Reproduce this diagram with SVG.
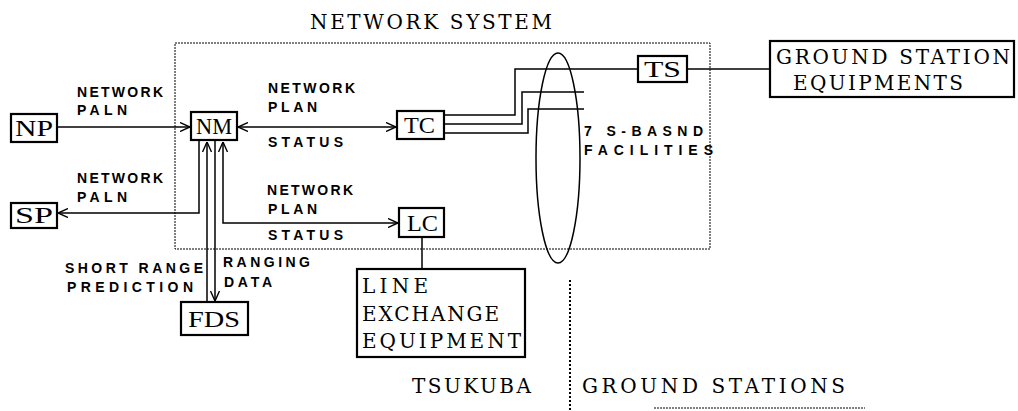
<svg xmlns="http://www.w3.org/2000/svg" width="1018" height="411" viewBox="0 0 1018 411">
<defs>
<marker id="arr" viewBox="0 0 10 10" refX="10" refY="5" markerWidth="10" markerHeight="10" markerUnits="userSpaceOnUse" orient="auto-start-reverse">
<path d="M0,0.5 L10,5 L0,9.5" fill="none" stroke="#000" stroke-width="1.4"/>
</marker>
</defs>
<style>
.box{fill:#fff;stroke:#000;stroke-width:2.2}
.bl{font-family:"Liberation Serif",serif;font-size:23px;fill:#000}
.mono{font-family:"DejaVu Serif",serif;font-size:20px;fill:#000}
.lab{font-family:"Liberation Sans",sans-serif;font-size:14px;font-weight:bold;fill:#000}
.ln{fill:none;stroke:#000;stroke-width:1.5}
.dot{fill:none;stroke:#000;stroke-width:1;stroke-dasharray:2 1}
</style>
<rect width="1018" height="411" fill="#fff"/>
<text class="mono" x="310" y="29" textLength="242" lengthAdjust="spacing">NETWORK SYSTEM</text>
<rect id="network-system" class="dot" x="175" y="43" width="535" height="206"/>
<ellipse id="s-band" cx="558" cy="158" rx="22" ry="105" fill="none" stroke="#000" stroke-width="1.5"/>
<g id="connectors">
<path class="ln" d="M57,127 H190" marker-end="url(#arr)"/>
<path class="ln" d="M238,127 H396" marker-start="url(#arr)" marker-end="url(#arr)"/>
<path class="ln" d="M199,141 V213 H58" marker-end="url(#arr)"/>
<path class="ln" d="M207,302 V142" marker-end="url(#arr)"/>
<path class="ln" d="M215,141 V301" marker-end="url(#arr)"/>
<path class="ln" d="M223,142 V223 H398" marker-start="url(#arr)" marker-end="url(#arr)"/>
<path class="ln" d="M422,237 V269"/>
<path class="ln" d="M444,115 H515 V69 H638"/>
<path class="ln" d="M444,124 H522 V92 H584"/>
<path class="ln" d="M444,133 H528 V109 H584"/>
<path class="ln" d="M687,69 H770"/>
</g>
<g id="NP"><rect class="box" x="11" y="114" width="46" height="28"/><text class="bl" x="15" y="136" textLength="38" lengthAdjust="spacingAndGlyphs">NP</text></g>
<g id="SP"><rect class="box" x="11" y="203" width="46" height="25"/><text class="bl" x="15" y="223" textLength="38" lengthAdjust="spacingAndGlyphs">SP</text></g>
<g id="NM"><rect class="box" x="191" y="112" width="46" height="28"/><text class="bl" x="196" y="134" textLength="36" lengthAdjust="spacingAndGlyphs">NM</text></g>
<g id="TC"><rect class="box" x="397" y="111" width="47" height="28"/><text class="bl" x="404" y="133" textLength="31" lengthAdjust="spacingAndGlyphs">TC</text></g>
<g id="LC"><rect class="box" x="399" y="208" width="45" height="29"/><text class="bl" x="407" y="231" textLength="31" lengthAdjust="spacingAndGlyphs">LC</text></g>
<g id="TS"><rect class="box" x="638" y="56" width="49" height="26"/><text class="bl" x="644" y="77" textLength="37" lengthAdjust="spacingAndGlyphs">TS</text></g>
<g id="FDS"><rect class="box" x="181" y="302" width="67" height="33"/><text class="bl" x="188" y="327" textLength="52" lengthAdjust="spacingAndGlyphs">FDS</text></g>
<g id="ground-station-equipments"><rect class="box" x="770" y="41" width="244" height="56"/>
<text class="mono" x="776" y="64" textLength="234" lengthAdjust="spacing">GROUND STATION</text>
<text class="mono" x="793" y="90" textLength="170" lengthAdjust="spacing">EQUIPMENTS</text></g>
<g id="line-exchange-equipment"><rect class="box" x="357" y="269" width="168" height="88" stroke-width="2.5"/>
<text class="mono" x="362" y="293" textLength="66" lengthAdjust="spacing">LINE</text>
<text class="mono" x="362" y="321" textLength="137" lengthAdjust="spacing">EXCHANGE</text>
<text class="mono" x="362" y="348" textLength="159" lengthAdjust="spacing">EQUIPMENT</text></g>
<g id="labels">
<text class="lab" x="77" y="97" textLength="86" lengthAdjust="spacing">NETWORK</text>
<text class="lab" x="77" y="115" textLength="50" lengthAdjust="spacing">PALN</text>
<text class="lab" x="268" y="93" textLength="87" lengthAdjust="spacing">NETWORK</text>
<text class="lab" x="268" y="112" textLength="49" lengthAdjust="spacing">PLAN</text>
<text class="lab" x="268" y="147" textLength="75" lengthAdjust="spacing">STATUS</text>
<text class="lab" x="77" y="183" textLength="86" lengthAdjust="spacing">NETWORK</text>
<text class="lab" x="77" y="202" textLength="50" lengthAdjust="spacing">PALN</text>
<text class="lab" x="267" y="195" textLength="86" lengthAdjust="spacing">NETWORK</text>
<text class="lab" x="268" y="214" textLength="49" lengthAdjust="spacing">PLAN</text>
<text class="lab" x="268" y="240" textLength="75" lengthAdjust="spacing">STATUS</text>
<text class="lab" x="65" y="273" textLength="138" lengthAdjust="spacing">SHORT RANGE</text>
<text class="lab" x="67" y="292" textLength="126" lengthAdjust="spacing">PREDICTION</text>
<text class="lab" x="223" y="267" textLength="87" lengthAdjust="spacing">RANGING</text>
<text class="lab" x="224" y="287" textLength="48" lengthAdjust="spacing">DATA</text>
<text class="lab" x="584" y="136" textLength="119" lengthAdjust="spacing">7 S-BASND</text>
<text class="lab" x="584" y="155" textLength="129" lengthAdjust="spacing">FACILITIES</text>
</g>
<text class="mono" x="412" y="393" textLength="119" lengthAdjust="spacing">TSUKUBA</text>
<text class="mono" x="582" y="393" textLength="263" lengthAdjust="spacing">GROUND STATIONS</text>
<path d="M570,280 V411" fill="none" stroke="#000" stroke-width="2" stroke-dasharray="2 2"/>
<path d="M654,408 H865" fill="none" stroke="#000" stroke-width="1" stroke-dasharray="2 1"/>
</svg>
